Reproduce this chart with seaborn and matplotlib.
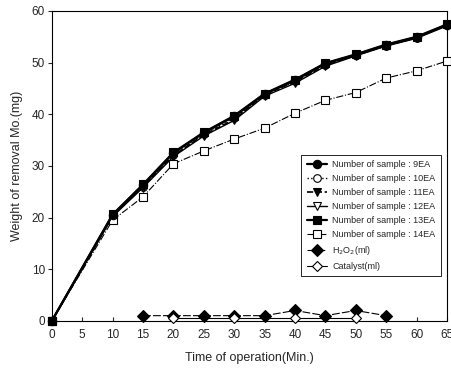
import matplotlib
matplotlib.use("Agg")
import matplotlib.pyplot as plt
import seaborn as sns

# time of operation (min)
time = [0, 10, 15, 20, 25, 30, 35, 40, 45, 50, 55, 60, 65]

# weight of removal Mo (mg) per number of samples
ea9 = [0, 20.5, 26.3, 32.5, 36.4, 39.6, 43.9, 46.6, 49.8, 51.5, 53.4, 54.9, 57.3]
ea10 = [0, 20.3, 26.0, 32.2, 36.2, 39.3, 43.7, 46.4, 49.6, 51.4, 53.3, 54.8, 57.2]
ea11 = [0, 20.4, 26.1, 32.0, 36.0, 39.0, 43.8, 46.3, 49.5, 51.4, 53.3, 54.8, 57.3]
ea12 = [0, 20.2, 25.8, 31.8, 35.8, 38.8, 43.5, 46.0, 49.3, 51.3, 53.2, 54.7, 57.1]
ea13 = [0, 20.6, 26.4, 32.6, 36.5, 39.7, 44.0, 46.7, 49.9, 51.6, 53.5, 55.0, 57.4]
ea14 = [0, 19.5, 24.0, 30.4, 32.9, 35.2, 37.3, 40.2, 42.7, 44.2, 47.0, 48.4, 50.3]

h2o2_time = [15, 20, 25, 30, 35, 40, 45, 50, 55]
h2o2 = [1, 1, 1, 1, 1, 2, 1, 2, 1]
cat_time = [20, 30, 40, 50]
catalyst = [0.5, 0.5, 0.5, 0.5]

sns.set_style("white")
plt.rcParams['font.family'] = ['Liberation Sans', 'DejaVu Sans']

fig = plt.figure(figsize=(4.51, 3.77), dpi=100)
ax = fig.add_axes([0.115, 0.149, 0.876, 0.822])

# (x, y, label, marker, face, linestyle, linewidth, zorder)
series = [
    (time, ea9, 'Number of sample : 9EA', 'o', 'black', '-', 1.6, 5),
    (time, ea10, 'Number of sample : 10EA', 'o', 'white', ':', 1.0, 2),
    (time, ea11, 'Number of sample : 11EA', 'v', 'black', '--', 1.2, 3),
    (time, ea12, 'Number of sample : 12EA', 'v', 'white', '-', 1.0, 2),
    (time, ea13, 'Number of sample : 13EA', 's', 'black', '-', 1.6, 4),
    (time, ea14, 'Number of sample : 14EA', 's', 'white', '-.', 0.8, 3),
    (h2o2_time, h2o2, 'H$_2$O$_2$(ml)', 'D', 'black', (0, (7, 2)), 0.8, 4),
    (cat_time, catalyst, 'Catalyst(ml)', 'D', 'white', '-', 0.8, 5),
]

for xs, ys, name, mk, fc, ls, lw, z in series:
    sns.lineplot(x=xs, y=ys, ax=ax, label=name, color='black', marker=mk,
                 markerfacecolor=fc, markeredgecolor='black',
                 markersize=6 if fc == 'black' else 5.5,
                 markeredgewidth=0.8, linestyle=ls, linewidth=lw,
                 clip_on=False, zorder=z)

ax.set_xlim(0, 65)
ax.set_ylim(0, 60)
ax.set_xticks(range(0, 66, 5))
ax.set_yticks(range(0, 61, 10))
ax.tick_params(axis='x', direction='in', length=3, labelsize=8.5, pad=6, width=0.8, bottom=True)
ax.tick_params(axis='y', direction='out', length=3, labelsize=8.5, pad=2, width=0.8, left=True)
for sp in ax.spines.values():
    sp.set_color('black')
    sp.set_linewidth(0.8)

ax.set_xlabel('Time of operation(Min.)', fontsize=9, labelpad=8)
ax.set_ylabel('Weight of removal Mo.(mg)', fontsize=9, labelpad=6)

leg = ax.legend(loc='upper left', bbox_to_anchor=(0.62, 0.55), fontsize=6.5,
                frameon=True, fancybox=False, edgecolor='black', framealpha=1,
                handlelength=2.2, labelspacing=0.55, borderpad=0.6, handletextpad=0.6)
leg.get_frame().set_linewidth(0.6)
leg.set_zorder(10)

fig.savefig('out.png', dpi=100)
